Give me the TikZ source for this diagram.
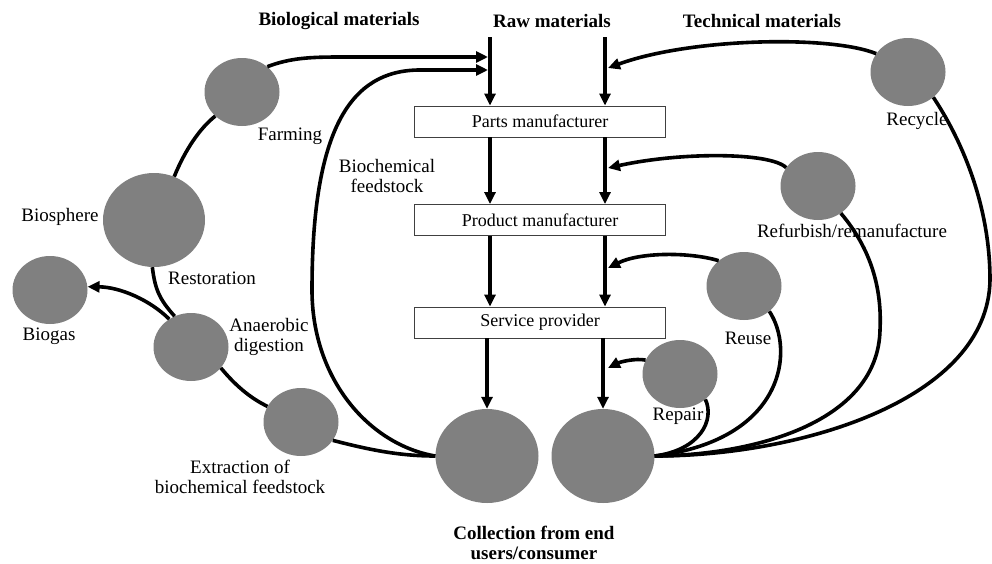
\documentclass[tikz,border=0pt]{standalone}
\usepackage{fontspec}
\setmainfont{Liberation Serif}
\usetikzlibrary{shapes.geometric,arrows.meta}
\definecolor{circgray}{HTML}{808080}
\begin{document}
\begin{tikzpicture}[x=1pt,y=-1pt,
  blob/.style={ellipse,fill=circgray,draw=none,minimum width=75pt,minimum height=68pt,inner sep=0pt},
  bigblob/.style={blob,minimum width=103pt,minimum height=94pt},
  stagebox/.style={draw=black!75,line width=0.9pt,minimum width=251pt,minimum height=31pt,inner sep=0pt,font=\fontsize{18}{20}\selectfont},
  lbl/.style={font=\fontsize{19}{20}\selectfont,align=center,inner sep=0pt},
  hdr/.style={font=\fontsize{19}{20}\selectfont\bfseries,align=center,inner sep=0pt},
  link/.style={line width=3.6pt},
  flow/.style={link,-{Triangle[length=12pt,width=11pt]}},
]
\useasboundingbox (0,0) rectangle (992,563);

% stages
\node[stagebox] (parts) at (540,121.5) {Parts manufacturer};
\node[stagebox] (product) at (540,220) {Product manufacturer};
\node[stagebox] (service) at (540,322.5) {Service provider};

% circles
\node[blob] (farm) at (242,92) {};
\node[bigblob,minimum width=102pt] (bios) at (154,220) {};
\node[blob] (biogas) at (50,290) {};
\node[blob] (anae) at (191,347) {};
\node[blob] (extr) at (301,422) {};
\node[bigblob] (colL) at (487,456) {};
\node[bigblob] (colR) at (603,456) {};
\node[blob] (rec) at (908,72) {};
\node[blob] (ref) at (818,186) {};
\node[blob] (reuse) at (744,286) {};
\node[blob] (rep) at (680,374) {};

% coordinates
\coordinate (rawL) at (490,37);
\coordinate (rawR) at (605,37);
\coordinate (inL1) at (488,57);
\coordinate (inL2) at (488,70);
\coordinate (inR1) at (608,68);
\coordinate (inR2) at (608,168);
\coordinate (inR3) at (608,268);
\coordinate (inR4) at (608,368);

% main vertical flows
\draw[flow] (rawL) -- (parts.north -| rawL);
\draw[flow] (rawR) -- (parts.north -| rawR);
\draw[flow] (parts.south -| rawL) -- (product.north -| rawL);
\draw[flow] (parts.south -| rawR) -- (product.north -| rawR);
\draw[flow] (product.south -| rawL) -- (service.north -| rawL);
\draw[flow] (product.south -| rawR) -- (service.north -| rawR);
\draw[flow] (service.south -| colL) -- (colL.north);
\draw[flow] (service.south -| colR) -- (colR.north);

% biological loop
\draw[link] (bios.65) .. controls (185,150) and (200,128) .. (farm.222);
\draw[link] (bios.268) .. controls (155,290) and (160,300) .. (anae.118);
\draw[flow] (anae.128) .. controls (150,300) and (120,287) .. (biogas.5);
\draw[link] (anae.-35) .. controls (235,385) and (250,398) .. (extr.155);
\draw[link] (extr.-30) .. controls (370,450) and (400,456) .. (colL.180);
\draw[flow] (colL.180) .. controls (370,445) and (312,380) .. (312,290)
   .. controls (312,130) and (350,70) .. (420,70) -- (inL2);
\draw[flow] (farm.45) .. controls (290,58) and (310,57) .. (340,57) -- (inL1);

% technical loops
\draw[flow] (rec.150) .. controls (830,35) and (690,38) .. (inR1);
\draw[link] (rec.-45) .. controls (965,145) and (990,210) .. (990,280)
   .. controls (988,400) and (800,456) .. (colR.east);
\draw[flow] (ref.150) .. controls (770,152) and (680,152) .. (inR2);
\draw[link] (ref.-50) .. controls (872,250) and (882,290) .. (880,330)
   .. controls (878,420) and (760,455) .. (colR.east);
\draw[flow] (reuse.135) .. controls (690,252) and (640,252) .. (inR3);
\draw[link] (reuse.-45) .. controls (795,350) and (785,440) .. (colR.east);
\draw[flow] (rep.158) .. controls (635,358) and (620,362) .. (inR4);
\draw[link] (rep.-45) .. controls (715,420) and (700,450) .. (colR.east);

% headers
\node[hdr] (hbio) at (339,21) {Biological materials};
\node[hdr] (hraw) at (552,21) {Raw materials};
\node[hdr] (htech) at (762,21) {Technical materials};
\node[hdr] (hcol) at (534,543) {Collection from end\\users/consumer};

% labels
\node[lbl] (lfarm) at (290,136) {Farming};
\node[lbl] (lbiochem) at (387,176) {Biochemical\\feedstock};
\node[lbl] (lbios) at (60,217) {Biosphere};
\node[lbl] (lrest) at (212,278) {Restoration};
\node[lbl] (lbiogas) at (49,336) {Biogas};
\node[lbl] (lanae) at (269,337) {Anaerobic\\digestion};
\node[lbl] (lextr) at (240,477) {Extraction of\\biochemical feedstock};
\node[lbl] (lrec) at (917,121) {Recycle};
\node[lbl] (lref) at (852,231) {Refurbish/remanufacture};
\node[lbl] (lreuse) at (748,338) {Reuse};
\node[lbl] (lrep) at (678,416) {Repair};
\end{tikzpicture}
\end{document}
